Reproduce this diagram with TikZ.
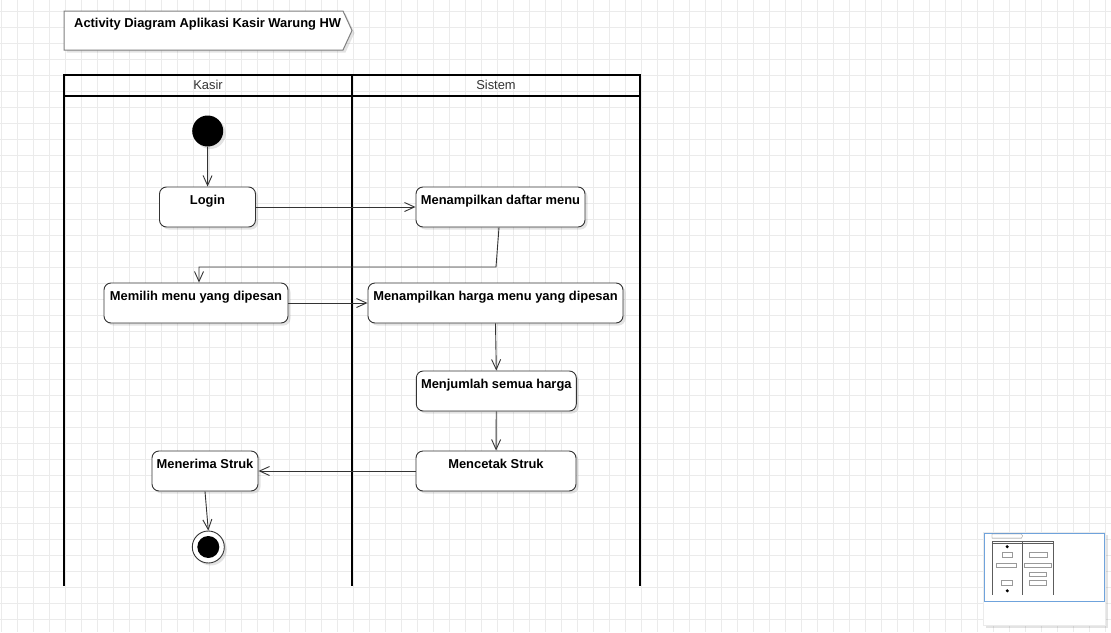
\documentclass[tikz,border=0pt]{standalone}
\usepackage{fontspec}
\setmainfont{Liberation Sans}
\usepackage{xcolor}
\usepackage{tikz}
\usetikzlibrary{arrows.meta, shadows}

\definecolor{garis}{HTML}{333333}
\definecolor{kisi}{HTML}{EBEBEB}
\definecolor{bingkai}{HTML}{7F7F7F}
\definecolor{peta}{HTML}{6FA3DC}

\tikzset{
  bayang/.style={drop shadow={shadow xshift=2.5pt, shadow yshift=-2.5pt, fill=black, opacity=0.11}},
  aksi/.style={rectangle, rounded corners=7pt, draw=garis, fill=white, line width=0.9pt,
    font=\fontsize{12.9}{15}\selectfont\bfseries, text height=17.3pt, text depth=22.7pt,
    inner ysep=0pt, inner xsep=2pt, minimum height=40pt, bayang},
  mulai/.style={circle, fill=black, inner sep=0pt, minimum size=31pt, bayang},
  akhir/.style={circle, draw=garis, fill=white, line width=0.9pt, inner sep=0pt, minimum size=32pt, bayang,
    path picture={\fill[black] (path picture bounding box.center) circle (11);}},
  alur/.style={draw=garis, line width=0.9pt, -{Straight Barb[length=10pt, width=9pt]}},
  lajur/.style={draw=black, line width=2pt},
  kepala/.style={font=\fontsize{12.9}{15}\selectfont, text=garis, anchor=base},
  gridline/.style={draw=kisi, line width=0.8pt}
}

\begin{document}
\begin{tikzpicture}[x=1pt, y=-1pt]
\useasboundingbox (0,0) rectangle (1111,632);
\fill[white] (0,0) rectangle (1111,632);
% background grid
\foreach \gx in {1,17,...,1105} \draw[gridline] (\gx,0) -- (\gx,632);
\foreach \gy in {11,27,...,619} \draw[gridline] (0,\gy) -- (1111,\gy);

% title frame
\draw[draw=bingkai, fill=white, line width=1pt, bayang] (64,11) -- (343,11) -- (352,30.5) -- (343,50) -- (64,50) -- cycle;
\node[anchor=base west, inner sep=0pt, font=\fontsize{12.9}{15}\selectfont\bfseries] (judul) at (74,27.5) {Activity Diagram Aplikasi Kasir Warung HW};

% swimlanes
\draw[lajur] (64,586) -- (64,75) -- (640,75) -- (640,586);
\draw[lajur] (64,96) -- (640,96);
\draw[lajur] (352,75) -- (352,586);
\node[kepala] (kasir) at (208,89.3) {Kasir};
\node[kepala] (sistem) at (496,89.3) {Sistem};

% activities
\node[mulai] (awal) at (207.7,131) {};
\node[aksi, minimum width=96pt] (login) at (207.5,207) {Login};
\node[aksi, minimum width=169pt] (tampil) at (500.5,207) {Menampilkan daftar menu};
\node[aksi, minimum width=184pt] (pilih) at (196,303) {Memilih menu yang dipesan};
\node[aksi, minimum width=255pt] (harga) at (495.5,303) {Menampilkan harga menu yang dipesan};
\node[aksi, minimum width=160pt] (jumlah) at (496.3,391) {Menjumlah semua harga};
\node[aksi, minimum width=160pt] (cetak) at (496,471) {Mencetak Struk};
\node[aksi, minimum width=106pt] (terima) at (205,471) {Menerima Struk};
\node[akhir] (selesai) at (208.3,547) {};

\coordinate (belok1) at (496,267);
\coordinate (belok2) at (199,267);

% flows
\draw[alur] (awal) -- (login);
\draw[alur] (login) -- (tampil);
\draw[alur] ([xshift=-1.5pt]tampil.south) -- (belok1) -- (belok2) -- (belok2 |- pilih.north);
\draw[alur] (pilih) -- (harga);
\draw[alur] (harga.south) -- (jumlah.north);
\draw[alur] (jumlah) -- (cetak);
\draw[alur] (cetak) -- (terima);
\draw[alur] (terima.south) -- (selesai.north);

% overview map
\draw[draw=kisi, fill=white, line width=0.6pt, bayang] (983,532) rectangle (1105,625);
\draw[draw=peta, line width=1pt] (984,533) rectangle (1104,601);
\begin{scope}[shift={(985.2,532.8)}, scale=0.106]
  \draw[draw=bingkai, line width=0.3pt] (64,11) -- (343,11) -- (352,30.5) -- (343,50) -- (64,50) -- cycle;
  \draw[draw=garis!80, line width=0.35pt] (64,586) -- (64,75) -- (640,75) -- (640,586) (64,96) -- (640,96) (352,75) -- (352,586);
  \foreach \mx/\my/\mw in {207.5/207/96, 500.5/207/169, 196/303/184, 495.5/303/255, 496.3/391/160, 496/471/160, 205/471/106}
    \draw[draw=garis!50, line width=0.3pt] (\mx-\mw/2,\my-20) rectangle (\mx+\mw/2,\my+20);
  \fill[black] (207.7,131) circle (16);
  \fill[black] (208.3,547) circle (16);
\end{scope}
\end{tikzpicture}
\end{document}
